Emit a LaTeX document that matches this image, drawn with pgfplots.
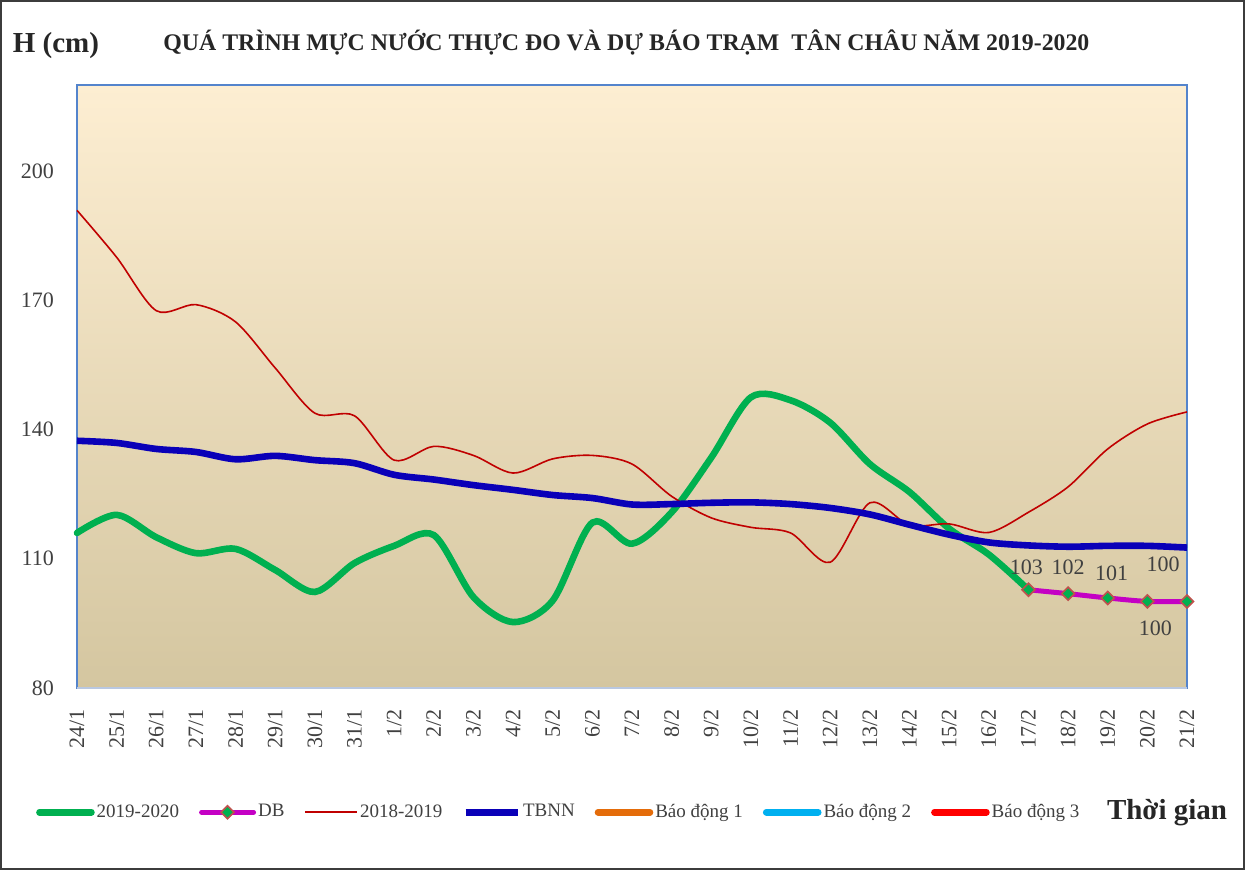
\documentclass[border=0pt]{standalone}
\usepackage{fontspec}
\setmainfont{Liberation Serif}
\usepackage{pgfplots}
\pgfplotsset{compat=1.18}
\definecolor{cgreen}{RGB}{0,176,80}
\definecolor{cmag}{RGB}{196,0,196}
\definecolor{cred}{RGB}{192,0,0}
\definecolor{cblue}{RGB}{10,0,184}
\definecolor{corange}{RGB}{228,108,10}
\definecolor{ccyan}{RGB}{0,176,240}
\definecolor{cred3}{RGB}{255,0,0}
\definecolor{cframe}{RGB}{84,132,204}
\definecolor{ctext}{RGB}{64,64,64}
\definecolor{cmarkedge}{RGB}{192,80,77}
\definecolor{bgtop}{RGB}{253,238,210}
\definecolor{bgmid}{RGB}{242,234,214}
\definecolor{bgbot}{RGB}{212,198,160}
\begin{document}
\begin{tikzpicture}
\path[use as bounding box] (-38.5pt,-91pt) rectangle (584pt,344pt);
\begin{axis}[
  at={(0,0)}, anchor=south west,
  scale only axis, width=555pt, height=301.5pt,
  xmin=0, xmax=28, ymin=80, ymax=220,
  xtick={0,...,28},
  xticklabels={24/1,25/1,26/1,27/1,28/1,29/1,30/1,31/1,1/2,2/2,3/2,4/2,5/2,6/2,7/2,8/2,9/2,10/2,11/2,12/2,13/2,14/2,15/2,16/2,17/2,18/2,19/2,20/2,21/2},
  ytick={80,110,140,170,200},
  major tick length=0pt,
  /pgf/number format/assume math mode=true,
  tick label style={font=\fontsize{11}{13}\selectfont, text=ctext},
  x tick label style={rotate=90, anchor=east, xshift=0pt, yshift=0pt},
  xticklabel shift=7pt,
  yticklabel shift=8pt,
  axis line style={draw=cframe, line width=0.8pt},
  axis background/.style={shade, top color=bgtop, middle color=bgmid, bottom color=bgbot},
  clip=false,
  legend columns=7,
  legend style={at={(rel axis cs:0.434,-0.206)}, anchor=center, draw=none, fill=none,
    font=\fontsize{9.5}{11}\selectfont, text=ctext,
    /tikz/every even column/.append style={column sep=9pt},
    nodes={inner sep=1pt}},
  legend image code/.code={\draw[mark repeat=2,mark phase=2,#1] plot coordinates {(0pt,0pt) (13pt,0pt) (26pt,0pt)};},
]
\addplot[cgreen, line width=3.3pt, smooth, tension=0.5, line cap=round] coordinates {
(0,116) (1,120.2) (2,115) (3,111.3) (4,112.3) (5,107.4) (6,102.3) (7,109) (8,113) (9,115.5)
(10,101.1) (11,95.3) (12,100.3) (13,118.4) (14,113.5) (15,120.8) (16,133.5) (17,147.5) (18,146.8) (19,141.6)
(20,132) (21,125.5) (22,117) (23,111) (24,102.8)};
\addlegendentry{2019-2020}
\addplot[cmag, line width=2.5pt, smooth, tension=0.5, line cap=round, mark=square*, mark size=2.3pt,
  mark options={fill=cgreen, draw=cmarkedge, line width=0.8pt, solid, rotate=45}] coordinates {
(24,102.8) (25,101.9) (26,100.9) (27,100.1) (28,100.1)};
\addlegendentry{DB}
\addplot[cred, line width=0.8pt, smooth, tension=0.5] coordinates {
(0,190.9) (1,180) (2,167.6) (3,169) (4,165) (5,154.3) (6,143.8) (7,143.2) (8,132.9) (9,136.1)
(10,134) (11,129.9) (12,133.2) (13,134) (14,132) (15,124.5) (16,119.5) (17,117.3) (18,116) (19,109.2)
(20,123) (21,117.8) (22,118.1) (23,116.1) (24,120.8) (25,126.7) (26,135.5) (27,141.3) (28,144.1)};
\addlegendentry{2018-2019}
\addplot[cblue, line width=3.3pt, smooth, tension=0.5] coordinates {
(0,137.4) (1,136.9) (2,135.5) (3,134.8) (4,133.1) (5,133.9) (6,132.9) (7,132.2) (8,129.5) (9,128.4)
(10,127.1) (11,126) (12,124.8) (13,124.1) (14,122.6) (15,122.7) (16,123) (17,123.1) (18,122.7) (19,121.8)
(20,120.3) (21,117.9) (22,115.6) (23,113.8) (24,113.1) (25,112.8) (26,113) (27,113) (28,112.6)};
\addlegendentry{TBNN}
\addlegendimage{corange, line width=3.3pt, line cap=round}
\addlegendentry{Báo động 1}
\addlegendimage{ccyan, line width=3.3pt, line cap=round}
\addlegendentry{Báo động 2}
\addlegendimage{cred3, line width=3.3pt, line cap=round}
\addlegendentry{Báo động 3}
% data labels
\node[font=\fontsize{11}{13}\selectfont, text=ctext] at (axis cs:23.95,108.1) {103};
\node[font=\fontsize{11}{13}\selectfont, text=ctext] at (axis cs:25,108.1) {102};
\node[font=\fontsize{11}{13}\selectfont, text=ctext] at (axis cs:26.1,106.7) {101};
\node[font=\fontsize{11}{13}\selectfont, text=ctext] at (axis cs:27.4,108.8) {100};
\node[font=\fontsize{11}{13}\selectfont, text=ctext] at (axis cs:27.2,93.9) {100};
% bottom axis line lighter
\draw[draw={rgb,255:red,185;green,200;blue,225}, line width=1pt] (rel axis cs:0,0) -- (rel axis cs:1,0);
% titles
\node[font=\fontsize{14.5}{16}\selectfont\bfseries, text={rgb,255:red,38;green,38;blue,38}] at (rel axis cs:-0.019,1.066) {H (cm)};
\node[font=\fontsize{11.9}{13}\selectfont\bfseries, text={rgb,255:red,38;green,38;blue,38}] at (rel axis cs:0.495,1.071) {QUÁ TRÌNH MỰC NƯỚC THỰC ĐO VÀ DỰ BÁO TRẠM\ \ TÂN CHÂU NĂM 2019-2020};
\node[font=\fontsize{14.5}{16}\selectfont\bfseries, text={rgb,255:red,38;green,38;blue,38}] at (rel axis cs:0.982,-0.206) {Thời gian};
\end{axis}
\draw[draw={rgb,255:red,60;green,60;blue,60}, line width=1pt] (-38pt,-90.5pt) rectangle (583.5pt,343.5pt);
\end{tikzpicture}
\end{document}
